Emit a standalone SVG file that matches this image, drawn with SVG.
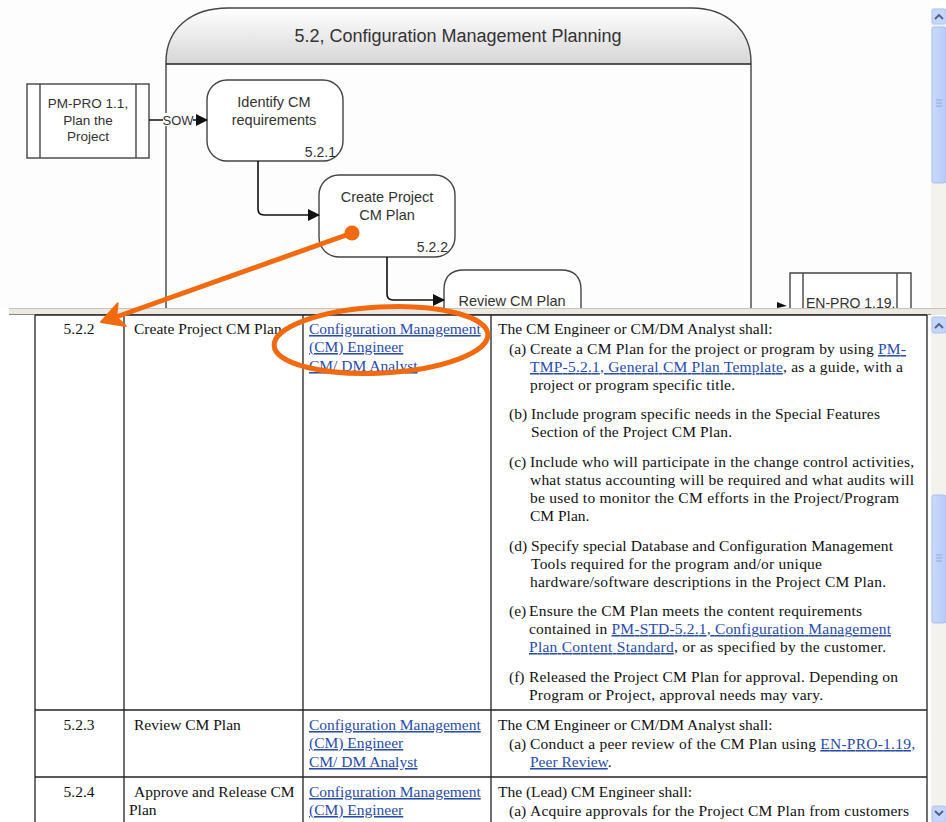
<svg xmlns="http://www.w3.org/2000/svg" width="946" height="822" viewBox="0 0 946 822">
<defs>
<linearGradient id="hdr" x1="0" y1="0" x2="0" y2="1">
<stop offset="0" stop-color="#ffffff"/>
<stop offset="1" stop-color="#d6d6d6"/>
</linearGradient>
<linearGradient id="thumb" x1="0" y1="0" x2="1" y2="0">
<stop offset="0" stop-color="#cbdafc"/>
<stop offset="1" stop-color="#b6cbf6"/>
</linearGradient>
<marker id="ah" markerWidth="12" markerHeight="12" refX="11" refY="6" orient="auto" markerUnits="userSpaceOnUse">
<path d="M0,0 L12,6 L0,12 Z" fill="#111"/>
</marker>
<style>
.sans{font-family:"Liberation Sans",Arial,sans-serif;fill:#333}
.node{fill:#fff;stroke:#444;stroke-width:1.4}
.conn{fill:none;stroke:#111;stroke-width:1.6}
.ser{font-family:"Liberation Serif","Times New Roman",serif;font-size:15.5px;fill:#111}
.link{fill:#2a4caa;text-decoration:underline}
.grid{stroke:#222;stroke-width:1.3}
.orange{stroke:#f26a10;fill:none;stroke-width:5}
.sbtn{fill:#c6d6fa;stroke:#b0c4f0;stroke-width:1}
.chev{fill:none;stroke:#4d6185;stroke-width:1.8}
</style>
</defs>
<rect x="0" y="0" width="946" height="822" fill="#fff"/>
<rect x="0" y="0" width="931" height="308" fill="#fdfdfd"/>

<!-- Swimlane -->
<g id="lane">
<path d="M166,64 L166,62 C166,28 192,8 228,8 L692,8 C726,8 751,30 751,62 L751,64 Z" fill="url(#hdr)"/>
<path d="M166,308 L166,62 C166,28 192,8 228,8 L692,8 C726,8 751,30 751,62 L751,308" fill="none" stroke="#444" stroke-width="1.4"/>
<line x1="166" y1="64" x2="751" y2="64" stroke="#222" stroke-width="1.4"/>
<text class="sans" x="458" y="42" font-size="18" text-anchor="middle">5.2, Configuration Management Planning</text>
</g>

<g id="pm-pro">
<rect class="node" x="27" y="84" width="122" height="74"/>
<line x1="40" y1="84" x2="40" y2="158" stroke="#444" stroke-width="1.4"/>
<line x1="136" y1="84" x2="136" y2="158" stroke="#444" stroke-width="1.4"/>
<text class="sans" font-size="13.5" text-anchor="middle"><tspan x="88" y="108">PM-PRO 1.1,</tspan><tspan x="88" y="125">Plan the</tspan><tspan x="88" y="141">Project</tspan></text>
</g>

<g id="n521">
<rect class="node" x="207" y="80" width="136" height="81" rx="20"/>
<text class="sans" font-size="14.5" text-anchor="middle"><tspan x="274" y="107">Identify CM</tspan><tspan x="274" y="125">requirements</tspan></text>
<text class="sans" font-size="14" x="336" y="157" text-anchor="end">5.2.1</text>
</g>

<g id="n522">
<rect class="node" x="319" y="175" width="136" height="82" rx="20"/>
<text class="sans" font-size="14.5" text-anchor="middle"><tspan x="387" y="202">Create Project</tspan><tspan x="387" y="220">CM Plan</tspan></text>
<text class="sans" font-size="14" x="448" y="252" text-anchor="end">5.2.2</text>
</g>

<g id="n523">
<path class="node" d="M444,308 L444,290 Q444,270 464,270 L561,270 Q581,270 581,290 L581,308"/>
<text class="sans" font-size="14.5" x="512" y="306" text-anchor="middle">Review CM Plan</text>
</g>

<g id="en-pro">
<path d="M790,308 L790,273 L911,273 L911,308" fill="#fff" stroke="#444" stroke-width="1.4"/>
<line x1="803" y1="273" x2="803" y2="308" stroke="#444" stroke-width="1.4"/>
<line x1="897" y1="273" x2="897" y2="308" stroke="#444" stroke-width="1.4"/>
<text class="sans" font-size="14" x="806" y="308">EN-PRO 1.19,</text>
</g>

<g id="connectors">
<line class="conn" x1="149" y1="120" x2="207" y2="120" marker-end="url(#ah)"/>
<rect x="163" y="113" width="30" height="13" fill="#fdfdfd"/>
<text class="sans" font-size="13" x="178" y="125" text-anchor="middle">SOW</text>
<path class="conn" d="M258,161 L258,209 Q258,215 264,215 L319,215" marker-end="url(#ah)"/>
<path class="conn" d="M387,257 L387,294 Q387,300 393,300 L444,300" marker-end="url(#ah)"/>
<path d="M777,302 L787,306 L777,308 Z" fill="#111"/>
</g>

<!-- top scrollbar -->
<rect x="931" y="8" width="15" height="300" fill="#f3f2ec"/>
<rect class="sbtn" x="932" y="9" width="14" height="15" rx="2"/>
<path class="chev" d="M935,19 L939,15 L943,19"/>
<rect x="932" y="27" width="14" height="156" rx="2" fill="url(#thumb)" stroke="#a8bff0"/>
<path d="M936,100 h6 M936,103 h6 M936,106 h6" stroke="#8fa8dc" stroke-width="1"/>

<!-- separator -->
<rect x="9" y="308" width="937" height="7" fill="#ebe9e1"/>
<line x1="9" y1="308.5" x2="946" y2="308.5" stroke="#c8c5b8"/>
<line x1="9" y1="314.5" x2="931" y2="314.5" stroke="#888" stroke-width="1"/>

<!-- table -->
<g id="table">
<line class="grid" x1="35" y1="315" x2="927" y2="315"/>
<line class="grid" x1="35" y1="315" x2="35" y2="822"/>
<line class="grid" x1="124" y1="315" x2="124" y2="822"/>
<line class="grid" x1="303" y1="315" x2="303" y2="822"/>
<line class="grid" x1="491" y1="315" x2="491" y2="822"/>
<line class="grid" x1="927" y1="315" x2="927" y2="822"/>
<line class="grid" x1="35" y1="710" x2="927" y2="710"/>
<line class="grid" x1="35" y1="777" x2="927" y2="777"/>
</g>

<g id="row522">
<text class="ser" x="79" y="334" text-anchor="middle">5.2.2</text>
<text class="ser" x="134" y="334">Create Project CM Plan</text>
<text class="ser link" x="309" y="334">Configuration Management</text>
<text class="ser link" x="309" y="352">(CM) Engineer</text>
<text class="ser link" x="309" y="371">CM/ DM Analyst</text>
<text class="ser" x="498" y="334">The CM Engineer or CM/DM Analyst shall:</text>
<text class="ser" x="509" y="354">(a)</text>
<text class="ser" x="530" y="354" textLength="376" lengthAdjust="spacing">Create a CM Plan for the project or program by using <tspan class="link">PM-</tspan></text>
<text class="ser" x="530" y="372" textLength="373" lengthAdjust="spacing"><tspan class="link">TMP-5.2.1, General CM Plan Template</tspan>, as a guide, with a</text>
<text class="ser" x="530" y="390" textLength="205" lengthAdjust="spacing">project or program specific title.</text>
<text class="ser" x="509" y="419">(b)</text>
<text class="ser" x="531" y="419" textLength="349" lengthAdjust="spacing">Include program specific needs in the Special Features</text>
<text class="ser" x="531" y="437" textLength="201" lengthAdjust="spacing">Section of the Project CM Plan.</text>
<text class="ser" x="509" y="467">(c)</text>
<text class="ser" x="530" y="467" textLength="384" lengthAdjust="spacing">Include who will participate in the change control activities,</text>
<text class="ser" x="530" y="485" textLength="384" lengthAdjust="spacing">what status accounting will be required and what audits will</text>
<text class="ser" x="530" y="503" textLength="369" lengthAdjust="spacing">be used to monitor the CM efforts in the Project/Program</text>
<text class="ser" x="530" y="521">CM Plan.</text>
<text class="ser" x="509" y="551">(d)</text>
<text class="ser" x="531" y="551" textLength="362" lengthAdjust="spacing">Specify special Database and Configuration Management</text>
<text class="ser" x="531" y="569" textLength="291" lengthAdjust="spacing">Tools required for the program and/or unique</text>
<text class="ser" x="530" y="587" textLength="356" lengthAdjust="spacing">hardware/software descriptions in the Project CM Plan.</text>
<text class="ser" x="509" y="616">(e)</text>
<text class="ser" x="529" y="616" textLength="333" lengthAdjust="spacing">Ensure the CM Plan meets the content requirements</text>
<text class="ser" x="529" y="634" textLength="362" lengthAdjust="spacing">contained in <tspan class="link">PM-STD-5.2.1, Configuration Management</tspan></text>
<text class="ser" x="529" y="652" textLength="357" lengthAdjust="spacing"><tspan class="link">Plan Content Standard</tspan>, or as specified by the customer.</text>
<text class="ser" x="509" y="682">(f)</text>
<text class="ser" x="529" y="682" textLength="369" lengthAdjust="spacing">Released the Project CM Plan for approval. Depending on</text>
<text class="ser" x="529" y="700" textLength="294" lengthAdjust="spacing">Program or Project, approval needs may vary.</text>
</g>

<g id="row523">
<text class="ser" x="79" y="730" text-anchor="middle">5.2.3</text>
<text class="ser" x="134" y="730">Review CM Plan</text>
<text class="ser link" x="309" y="730">Configuration Management</text>
<text class="ser link" x="309" y="748">(CM) Engineer</text>
<text class="ser link" x="309" y="767">CM/ DM Analyst</text>
<text class="ser" x="498" y="730">The CM Engineer or CM/DM Analyst shall:</text>
<text class="ser" x="509" y="749">(a)</text>
<text class="ser" x="530" y="749" textLength="385" lengthAdjust="spacing">Conduct a peer review of the CM Plan using <tspan class="link">EN-PRO-1.19,</tspan></text>
<text class="ser" x="530" y="767"><tspan class="link">Peer Review</tspan>.</text>
</g>

<g id="row524">
<text class="ser" x="79" y="797" text-anchor="middle">5.2.4</text>
<text class="ser" x="134" y="797">Approve and Release CM</text>
<text class="ser" x="129" y="815">Plan</text>
<text class="ser link" x="309" y="797">Configuration Management</text>
<text class="ser link" x="309" y="815">(CM) Engineer</text>
<text class="ser" x="498" y="797" textLength="194" lengthAdjust="spacing">The (Lead) CM Engineer shall:</text>
<text class="ser" x="509" y="816">(a)</text>
<text class="ser" x="530" y="816" textLength="379" lengthAdjust="spacing">Acquire approvals for the Project CM Plan from customers</text>
</g>

<!-- bottom scrollbar -->
<rect x="931" y="316" width="15" height="506" fill="#f3f2ec"/>
<rect class="sbtn" x="932" y="317" width="14" height="16" rx="2"/>
<path class="chev" d="M935,328 L939,324 L943,328"/>
<rect x="932" y="495" width="14" height="128" rx="2" fill="url(#thumb)" stroke="#a8bff0"/>
<path d="M936,555 h6 M936,558 h6 M936,561 h6" stroke="#8fa8dc" stroke-width="1"/>
<rect class="sbtn" x="932" y="806" width="14" height="16" rx="2"/>
<path class="chev" d="M935,811 L939,815 L943,811"/>

<!-- orange annotations -->
<g id="annotation">
<line class="orange" x1="352" y1="233" x2="116" y2="317"/>
<circle cx="352" cy="233" r="7.5" fill="#f26a10"/>
<path d="M101,322 L117.7,303.4 L116.1,316.7 L125.7,326 Z" fill="#f26a10" stroke="#f26a10" stroke-width="2" stroke-linejoin="round"/>
<ellipse class="orange" cx="381" cy="340" rx="107" ry="33" transform="rotate(-3 381 340)"/>
</g>
</svg>
